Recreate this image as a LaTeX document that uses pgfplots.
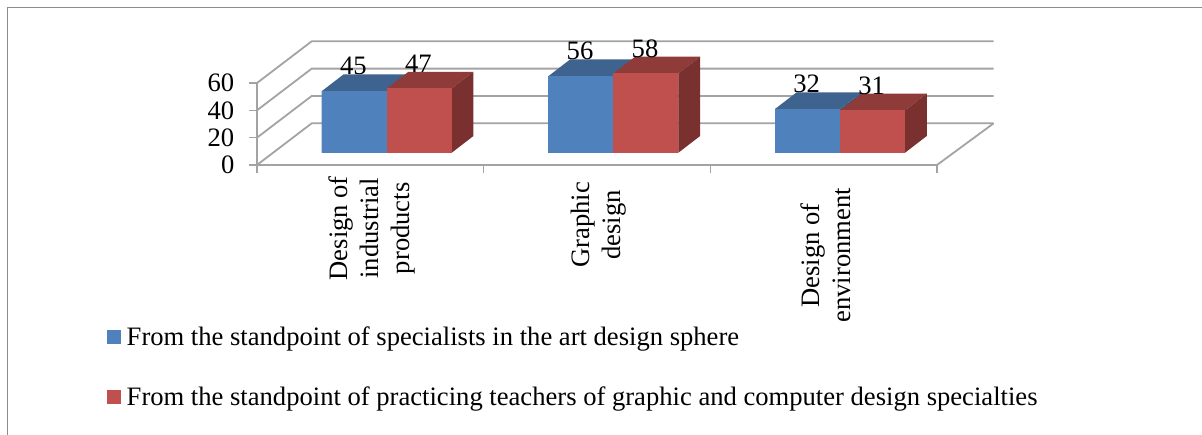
\documentclass[border=0pt]{standalone}
\usepackage{fontspec}
\setmainfont{Liberation Serif}
\usepackage{pgfplots}
\pgfplotsset{compat=1.18}
\definecolor{gridc}{HTML}{A3A3A3}
\definecolor{framec}{HTML}{8C8C8C}
\definecolor{blueF}{HTML}{4F81BD}
\definecolor{blueT}{HTML}{3E638F}
\definecolor{blueS}{HTML}{375A83}
\definecolor{redF}{HTML}{C0504D}
\definecolor{redT}{HTML}{8F3B39}
\definecolor{redS}{HTML}{7A302E}
\newcommand{\lbl}{\fontsize{26.6}{31}\selectfont}
% faces of a bar: the mark stands at the middle of the bar's front top edge
\newcommand{\facesmark}[4]{%
\pgfdeclareplotmark{#1}{%
  \pgfmathsetlengthmacro{\hh}{\barv*1.3667pt}%
  \pgfsetcolor{#2}%
  \pgfpathmoveto{\pgfpoint{-32.5pt}{0pt}}%
  \pgfpathlineto{\pgfpoint{32.5pt}{0pt}}%
  \pgfpathlineto{\pgfpoint{54.2pt}{16.7pt}}%
  \pgfpathlineto{\pgfpoint{-10.8pt}{16.7pt}}%
  \pgfpathclose\pgfusepath{fill}%
  \pgfsetcolor{#3}%
  \pgfpathmoveto{\pgfpoint{32.5pt}{0pt}}%
  \pgfpathlineto{\pgfpoint{54.2pt}{16.7pt}}%
  \pgfpathlineto{\pgfpoint{54.2pt}{16.7pt-\hh}}%
  \pgfpathlineto{\pgfpoint{32.5pt}{-\hh}}%
  \pgfpathclose\pgfusepath{fill}%
  \pgfsetcolor{#4}%
  \pgfpathrectanglecorners{\pgfpoint{-32.5pt}{0pt}}{\pgfpoint{32.5pt}{-\hh}}%
  \pgfusepath{fill}%
}}
\facesmark{facesB}{blueT}{blueS}{blueF}
\facesmark{facesR}{redT}{redS}{redF}
\pgfplotsset{faces/.style={
  scatter, only marks, forget plot,
  visualization depends on={y \as \barv},
  scatter/@pre marker code/.code={\pgfscope},
  scatter/@post marker code/.code={\endpgfscope}},
  gridline/.style={gridc, line width=1.8pt, forget plot, no marks},
  front/.style={ybar, bar width=65pt, draw=none, yshift=12.3pt, forget plot}
}
\begin{document}
\begin{tikzpicture}
\path[use as bounding box] (0,0) rectangle (1202pt,435pt);
\draw[framec, line width=1.5pt] (7.5pt,0pt) -- (7.5pt,427.7pt) -- (1202pt,427.7pt);
\begin{axis}[
  at={(257pt,270pt)}, anchor=south west,
  scale only axis, width=736.3pt, height=124pt,
  xmin=0, xmax=3.2484, ymin=0, ymax=90.73,
  clip=false,
  axis lines=left,
  axis line style={draw=none},
  tick align=outside,
  major tick length=8.5pt,
  tick style={gridc, line width=1.6pt},
  xtick={0,1,2,3}, xticklabels={},
  extra x ticks={0.5,1.5,2.5},
  extra x tick labels={{Design of\\industrial\\products},{Graphic\hspace*{6pt}\\design\hspace*{6pt}},{Design of\hspace*{12pt}\\environment\hspace*{12pt}}},
  extra x tick style={major tick length=0pt, tick style={draw=none},
    xticklabel style={rotate=90, anchor=east, align=center, font=\lbl, inner sep=0pt, xshift=-11pt, yshift=-2pt}},
  ytick={0,20,40,60},
  yticklabel style={font=\lbl, inner sep=0pt, xshift=-14pt},
  /pgf/number format/assume math mode=true,
  legend cell align=left,
  legend style={draw=none, fill=none, font=\lbl, at={(-0.2037,-1.30)}, anchor=north west,
    inner sep=0pt, row sep=40pt, column sep=5.5pt, nodes={inner sep=0pt}},
  legend image code/.code={\fill[#1] (0pt,-7pt) rectangle (14pt,7pt);},
]
% walls and floor
\addplot[gridline] coordinates {(0,0)(0.2413,30.5)(3.25,30.5)};
\addplot[gridline] coordinates {(0,20)(0.2413,50.5)(3.25,50.5)};
\addplot[gridline] coordinates {(0,40)(0.2413,70.5)(3.25,70.5)};
\addplot[gridline] coordinates {(0,60)(0.2413,90.5)(3.25,90.5)};
\addplot[gridline] coordinates {(0,0)(0,60)};
\addplot[gridline] coordinates {(0,0)(3,0)(3.25,30.5)};
% blue series
\addplot[front, fill=blueF, xshift=-16.1pt] coordinates {(0.5,45)(1.5,56)(2.5,32)};
\addplot[faces, mark=facesB, xshift=-16.1pt, yshift=12.3pt] coordinates {(0.5,45)(1.5,56)(2.5,32)};
\addlegendimage{fill=blueF, draw=none}
\addlegendentry{From the standpoint of specialists in the art design sphere}
% red series
\addplot[front, fill=redF, xshift=48.9pt] coordinates {(0.5,47)(1.5,58)(2.5,31)};
\addplot[faces, mark=facesR, xshift=48.9pt, yshift=12.3pt] coordinates {(0.5,47)(1.5,58)(2.5,31)};
\addlegendimage{fill=redF, draw=none}
\addlegendentry{From the standpoint of practicing teachers of graphic and computer design specialties}
% value labels
\addplot[only marks, mark=none, forget plot, xshift=-17pt, yshift=28.5pt,
  nodes near coords, nodes near coords style={font=\lbl, anchor=base, inner sep=0pt}] coordinates {(0.5,45)(1.5,56)(2.5,32)};
\addplot[only marks, mark=none, forget plot, xshift=48pt, yshift=28.5pt,
  nodes near coords, nodes near coords style={font=\lbl, anchor=base, inner sep=0pt}] coordinates {(0.5,47)(1.5,58)(2.5,31)};
\end{axis}
\end{tikzpicture}
\end{document}
